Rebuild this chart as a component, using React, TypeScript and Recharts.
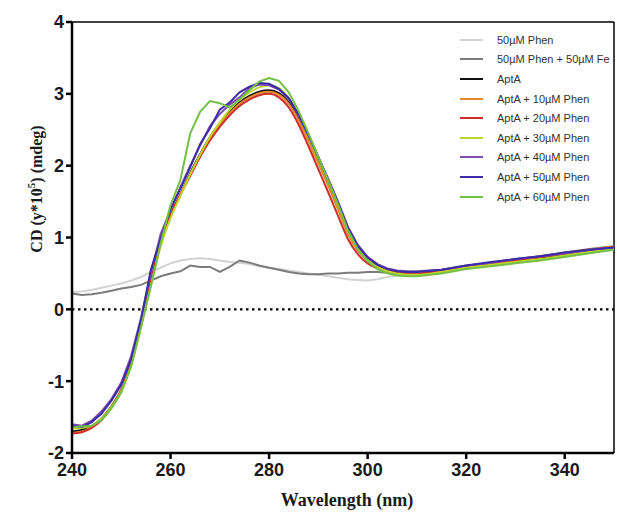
import React from 'react';
import { LineChart, Line, XAxis, YAxis, ReferenceLine, Label } from 'recharts';

const wavelengths = [
  240, 242, 244, 246, 248, 250, 252, 254, 256, 258,
  260, 262, 264, 266, 268, 270, 272, 274, 276, 278,
  280, 282, 284, 286, 288, 290, 292, 294, 296, 298,
  300, 302, 304, 306, 308, 310, 315, 320, 325, 330,
  335, 340, 345, 350,
];

const phen50 = [
  0.24, 0.25, 0.27, 0.30, 0.33, 0.36, 0.40, 0.45, 0.52, 0.58,
  0.64, 0.68, 0.70, 0.71, 0.70, 0.68, 0.66, 0.65, 0.63, 0.60,
  0.58, 0.56, 0.54, 0.52, 0.50, 0.48, 0.46, 0.44, 0.42, 0.41,
  0.40, 0.42, 0.45, 0.47, 0.48, 0.49, 0.53, 0.60, 0.64, 0.69,
  0.73, 0.78, 0.83, 0.87,
];

const phen50Fe50 = [
  0.22, 0.20, 0.21, 0.23, 0.26, 0.29, 0.31, 0.34, 0.40, 0.46,
  0.50, 0.53, 0.61, 0.59, 0.59, 0.52, 0.59, 0.68, 0.65, 0.61,
  0.58, 0.55, 0.52, 0.50, 0.49, 0.49, 0.50, 0.50, 0.51, 0.51,
  0.52, 0.52, 0.51, 0.50, 0.50, 0.50, 0.53, 0.60, 0.64, 0.69,
  0.74, 0.79, 0.84, 0.88,
];

const aptA = [
  -1.70, -1.68, -1.63, -1.52, -1.35, -1.12, -0.76, -0.22, 0.36, 0.92,
  1.30, 1.60, 1.90, 2.16, 2.40, 2.59, 2.75, 2.88, 2.97, 3.03,
  3.05, 3.01, 2.88, 2.66, 2.37, 2.06, 1.75, 1.42, 1.08, 0.84,
  0.69, 0.60, 0.55, 0.52, 0.50, 0.50, 0.53, 0.59, 0.63, 0.68,
  0.72, 0.77, 0.82, 0.86,
];

const aptA10 = [
  -1.72, -1.70, -1.64, -1.53, -1.36, -1.12, -0.75, -0.20, 0.38, 0.93,
  1.30, 1.60, 1.88, 2.14, 2.38, 2.57, 2.73, 2.86, 2.95, 3.01,
  3.03, 2.99, 2.86, 2.63, 2.34, 2.03, 1.72, 1.39, 1.05, 0.82,
  0.68, 0.59, 0.54, 0.52, 0.51, 0.51, 0.54, 0.59, 0.64, 0.69,
  0.74, 0.78, 0.83, 0.87,
];

const aptA20 = [
  -1.73, -1.71, -1.65, -1.54, -1.37, -1.13, -0.74, -0.18, 0.40, 0.95,
  1.32, 1.60, 1.86, 2.12, 2.35, 2.54, 2.70, 2.83, 2.92, 2.98,
  3.00, 2.95, 2.81, 2.57, 2.27, 1.95, 1.63, 1.30, 0.98, 0.77,
  0.64, 0.57, 0.53, 0.51, 0.50, 0.50, 0.54, 0.60, 0.64, 0.68,
  0.73, 0.78, 0.83, 0.86,
];

const aptA30 = [
  -1.66, -1.65, -1.62, -1.52, -1.36, -1.14, -0.78, -0.25, 0.32, 0.88,
  1.27, 1.58, 1.88, 2.15, 2.40, 2.60, 2.78, 2.92, 3.02, 3.09,
  3.12, 3.08, 2.94, 2.70, 2.40, 2.09, 1.78, 1.45, 1.10, 0.85,
  0.69, 0.59, 0.53, 0.50, 0.48, 0.48, 0.52, 0.58, 0.62, 0.66,
  0.70, 0.75, 0.80, 0.85,
];

const aptA40 = [
  -1.60, -1.62, -1.55, -1.42, -1.25, -1.02, -0.65, -0.12, 0.50, 1.05,
  1.38, 1.70, 2.00, 2.28, 2.55, 2.72, 2.85, 2.95, 3.08, 3.13,
  3.12, 3.06, 2.93, 2.70, 2.42, 2.12, 1.82, 1.50, 1.15, 0.90,
  0.73, 0.63, 0.57, 0.54, 0.53, 0.53, 0.55, 0.61, 0.65, 0.70,
  0.74, 0.78, 0.83, 0.86,
];

const aptA50 = [
  -1.62, -1.64, -1.57, -1.45, -1.27, -1.05, -0.70, -0.15, 0.55, 0.98,
  1.40, 1.68, 1.98, 2.30, 2.52, 2.78, 2.88, 3.02, 3.10, 3.15,
  3.14, 3.07, 2.94, 2.71, 2.43, 2.12, 1.80, 1.48, 1.13, 0.88,
  0.72, 0.62, 0.56, 0.53, 0.52, 0.52, 0.55, 0.61, 0.66, 0.70,
  0.74, 0.79, 0.83, 0.86,
];

const aptA60 = [
  -1.64, -1.63, -1.62, -1.54, -1.38, -1.16, -0.80, -0.25, 0.32, 0.92,
  1.45, 1.80, 2.45, 2.75, 2.90, 2.87, 2.81, 2.92, 3.05, 3.17,
  3.22, 3.18, 3.02, 2.76, 2.45, 2.12, 1.80, 1.46, 1.10, 0.84,
  0.67, 0.56, 0.50, 0.47, 0.46, 0.46, 0.50, 0.56, 0.60, 0.64,
  0.68, 0.73, 0.78, 0.83,
];

const xTicks = [240, 260, 280, 300, 320, 340];
const yTicks = [-2, -1, 0, 1, 2, 3, 4];

const seriesDefs = [
  { key: 'phen', name: '50µM Phen', color: '#d2d2d2', values: phen50, curve: 'linear' },
  { key: 'phenFe', name: '50µM Phen + 50µM Fe', color: '#7c7c7c', values: phen50Fe50, curve: 'linear' },
  { key: 'aptA', name: 'AptA', color: '#111111', values: aptA, curve: 'monotone' },
  { key: 'a10', name: 'AptA + 10µM Phen', color: '#e3892b', values: aptA10, curve: 'monotone' },
  { key: 'a20', name: 'AptA + 20µM Phen', color: '#cf2f2c', values: aptA20, curve: 'monotone' },
  { key: 'a30', name: 'AptA + 30µM Phen', color: '#bcd62a', values: aptA30, curve: 'monotone' },
  { key: 'a40', name: 'AptA + 40µM Phen', color: '#7d4fb3', values: aptA40, curve: 'linear' },
  { key: 'a50', name: 'AptA + 50µM Phen', color: '#3d2aa6', values: aptA50, curve: 'linear' },
  { key: 'a60', name: 'AptA + 60µM Phen', color: '#74c046', values: aptA60, curve: 'linear' },
];

const data = wavelengths.map((w, i) => {
  const row: any = { wl: w };
  seriesDefs.forEach((s) => {
    row[s.key] = s.values[i];
  });
  return row;
});

const tickFont = {
  fill: '#1a1a1a',
  fontSize: 18,
  fontWeight: 700,
  fontFamily: 'Arial, "Liberation Sans", sans-serif',
};

const serif = '"Liberation Serif", "Times New Roman", serif';

export default function App() {
  return (
    <div style={{ position: 'absolute', left: 0, top: 0, width: 617, height: 512, background: '#fff' }}>
      <LineChart
        width={617}
        height={512}
        data={data}
        margin={{ top: 22, right: 3, left: 0, bottom: 0 }}
      >
        <XAxis
          dataKey="wl"
          type="number"
          domain={[240, 350]}
          ticks={xTicks}
          height={59}
          tick={tickFont}
          tickSize={6}
          tickMargin={4}
          axisLine={{ stroke: '#000', strokeWidth: 2.5 }}
          tickLine={{ stroke: '#000', strokeWidth: 2.5 }}
        >
          <Label
            content={() => (
              <text
                x={347}
                y={506}
                textAnchor="middle"
                fill="#1a1a1a"
                style={{ fontFamily: serif, fontWeight: 700, fontSize: 18 }}
              >
                Wavelength (nm)
              </text>
            )}
          />
        </XAxis>
        <YAxis
          type="number"
          domain={[-2, 4]}
          ticks={yTicks}
          width={72}
          tick={tickFont}
          tickSize={6}
          tickMargin={2}
          interval={0}
          axisLine={{ stroke: '#000', strokeWidth: 2.5 }}
          tickLine={{ stroke: '#000', strokeWidth: 2.5 }}
        >
          <Label
            content={() => (
              <text
                transform="translate(42,189) rotate(-90)"
                textAnchor="middle"
                fill="#1a1a1a"
                style={{ fontFamily: serif, fontWeight: 700, fontSize: 16 }}
              >
                <tspan>CD (y*10</tspan>
                <tspan dy={-7} fontSize={11}>5</tspan>
                <tspan dy={7}>) (mdeg)</tspan>
              </text>
            )}
          />
        </YAxis>
        <ReferenceLine y={4} stroke="#000" strokeWidth={1.5} />
        <ReferenceLine x={350} stroke="#000" strokeWidth={1.5} />
        <ReferenceLine y={0} stroke="#000" strokeWidth={2.2} strokeDasharray="2.5 3.5" />
        {seriesDefs.map((s) => (
          <Line
            key={s.key}
            dataKey={s.key}
            name={s.name}
            type={s.curve as any}
            stroke={s.color}
            strokeWidth={2}
            dot={false}
            activeDot={false}
            isAnimationActive={false}
          />
        ))}
      </LineChart>
      <div
        style={{
          position: 'absolute',
          left: 460,
          top: 30,
          width: 157,
          fontFamily: 'Arial, "Liberation Sans", sans-serif',
          fontSize: 11,
          color: '#333',
        }}
      >
        {seriesDefs.map((s) => (
          <div key={s.key} style={{ display: 'flex', alignItems: 'center', height: 19.6, whiteSpace: 'nowrap' }}>
            <div style={{ width: 23, height: 2, background: s.color, marginRight: 14, flexShrink: 0 }} />
            <span>{s.name}</span>
          </div>
        ))}
      </div>
    </div>
  );
}
